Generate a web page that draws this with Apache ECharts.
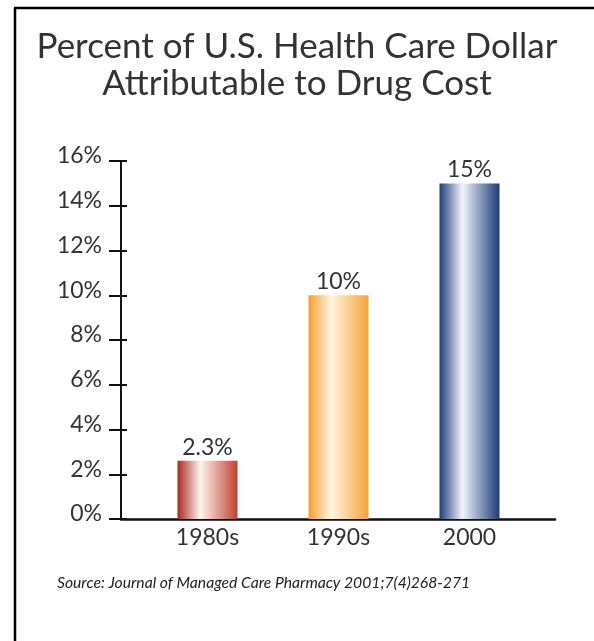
<!DOCTYPE html>
<html>
<head>
<meta charset="utf-8">
<script src="https://cdn.jsdelivr.net/npm/echarts@6/dist/echarts.min.js"></script>
<style>
  html, body { margin: 0; padding: 0; background: #fff; }
  #chart { width: 594px; height: 641px; }
</style>
</head>
<body>
<div id="chart"></div>
<script>
// data
const categories = ['1980s', '1990s', '2000'];
const barHeights = [2.6, 10, 15];           // drawn bar heights (%)
const valueLabels = ['2.3%', '10%', '15%']; // printed labels
const yTicks = [0, 2, 4, 6, 8, 10, 12, 14, 16];

// colours per bar: edge, highlight, right edge
const barColors = [
  ['#a8281d', '#fff4ef', '#bd4230'],
  ['#f4a02e', '#fff4e2', '#f5a436'],
  ['#1e3e7a', '#f2f4fa', '#1b3d77']
];

const fontFamily = 'Lato, "Noto Sans", sans-serif';

function drawChart() {
  let chart = echarts.init(document.getElementById('chart'));

  let bars = barHeights.map((v, i) => ({
    value: v,
    itemStyle: {
      color: new echarts.graphic.LinearGradient(0, 0, 1, 0, [
        { offset: 0, color: barColors[i][0] },
        { offset: 0.38, color: barColors[i][1] },
        { offset: 1, color: barColors[i][2] }
      ])
    }
  }));

  let option = {
    backgroundColor: '#fff',
    animation: false,
    title: {
      text: 'Percent of U.S. Health Care Dollar\nAttributable to Drug Cost',
      left: 'center',
      top: 23,
      textStyle: {
        fontFamily: fontFamily,
        fontSize: 35,
        lineHeight: 37,
        fontWeight: 'normal',
        color: '#333'
      }
    },
    grid: [
      { left: 121, right: 39, top: 161, bottom: 122 },
      { left: 142, right: 59, top: 161, bottom: 122 }
    ],
    xAxis: [
      {
        type: 'category', gridIndex: 0, data: categories,
        axisLine: { lineStyle: { color: '#111', width: 2.5 } },
        axisTick: { show: false }, axisLabel: { show: false }
      },
      {
        type: 'category', gridIndex: 1, data: categories,
        axisLine: { show: false }, axisTick: { show: false },
        axisLabel: { fontFamily: fontFamily, fontSize: 23, color: '#333', margin: 7 }
      }
    ],
    yAxis: [
      {
        type: 'value', gridIndex: 0, position: 'left',
        min: yTicks[0], max: yTicks[yTicks.length - 1], interval: 2,
        axisLine: { show: true, lineStyle: { color: '#111', width: 2 } },
        axisTick: { show: true, length: 12, lineStyle: { color: '#111', width: 2 } },
        axisLabel: {
          formatter: '{value}%', fontFamily: fontFamily, fontSize: 23,
          color: '#333', margin: 19, verticalAlign: 'bottom', lineHeight: 10
        },
        splitLine: { show: false }
      },
      {
        type: 'value', gridIndex: 0, position: 'left',
        min: yTicks[0], max: yTicks[yTicks.length - 1], interval: 2,
        axisLine: { show: false },
        axisTick: { show: true, inside: true, length: 6, lineStyle: { color: '#111', width: 2 } },
        axisLabel: { show: false }, splitLine: { show: false }
      },
      {
        type: 'value', gridIndex: 1, min: yTicks[0], max: yTicks[yTicks.length - 1],
        show: false, splitLine: { show: false }
      }
    ],
    series: [
      {
        type: 'bar', xAxisIndex: 1, yAxisIndex: 2,
        data: bars, barWidth: 60,
        label: {
          show: true, position: 'top', distance: 2,
          formatter: p => valueLabels[p.dataIndex],
          fontFamily: fontFamily, fontSize: 23, color: '#333'
        }
      }
    ],
    graphic: [
      { type: 'line', shape: { x1: 14, y1: 8, x2: 594, y2: 8 }, style: { stroke: '#000', lineWidth: 2.5 } },
      { type: 'line', shape: { x1: 15, y1: 8, x2: 15, y2: 641 }, style: { stroke: '#000', lineWidth: 2.5 } },
      {
        type: 'text', left: 57, top: 575,
        style: {
          text: 'Source: Journal of Managed Care Pharmacy 2001;7(4)268-271',
          fontFamily: fontFamily, fontSize: 15.7, fontStyle: 'italic', fill: '#222'
        }
      }
    ]
  };

  chart.setOption(option);
}

window.addEventListener('load', drawChart);
</script>
</body>
</html>
